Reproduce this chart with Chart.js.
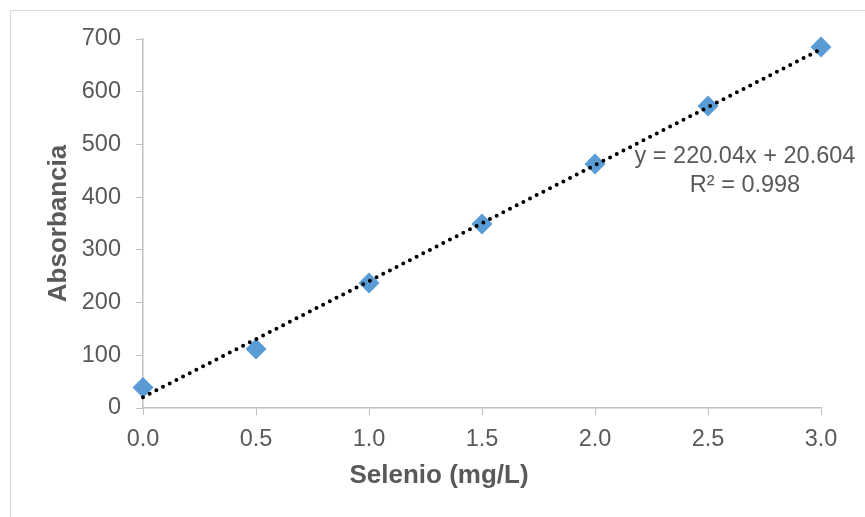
<!DOCTYPE html>
<html>
<head>
<meta charset="utf-8">
<script src="https://cdn.jsdelivr.net/npm/chart.js@4"></script>
<style>
  body { margin: 0; background: #fff; }
  #wrap { position: relative; width: 865px; height: 517px; overflow: hidden; }
  #frame { position: absolute; left: 10px; top: 10px; width: 900px; height: 560px; border: 1px solid #D9D9D9; box-sizing: border-box; }
  canvas { position: absolute; left: 0; top: 0; }
</style>
</head>
<body>
<div id="wrap">
  <div id="frame"></div>
  <canvas id="calibChart" width="865" height="517"></canvas>
</div>
<script>
// Datos de la curva de calibracion
var selenio = [0, 0.5, 1.0, 1.5, 2.0, 2.5, 3.0];
var absorbancia = [39, 112, 237, 349, 463, 573, 685];
var trendX = [0, 3];
var trendY = [20.604, 680.724];
var xTickLabels = ['0.0', '0.5', '1.0', '1.5', '2.0', '2.5', '3.0'];
var yTickLabels = ['0', '100', '200', '300', '400', '500', '600', '700'];
var equationLines = ['y = 220.04x + 20.604', 'R\u00b2 = 0.998'];
var xTitle = 'Selenio (mg/L)';
var yTitle = 'Absorbancia';

var textColor = '#595959';
var fontFamily = '"Liberation Sans", Arial, sans-serif';

// Texto de la ecuacion y titulo del eje X
var extraText = {
    id: 'extraText',
    afterDatasetsDraw: function (chart) {
        var ctx = chart.ctx;
        ctx.save();
        ctx.fillStyle = textColor;
        ctx.textAlign = 'center';
        ctx.textBaseline = 'alphabetic';
        ctx.font = '23.5px ' + fontFamily;
        ctx.fillText(equationLines[0], 745, 163);
        ctx.fillText(equationLines[1], 745, 192);
        ctx.font = 'bold 26px ' + fontFamily;
        ctx.fillText(xTitle, 439, 483);
        ctx.restore();
    }
};

var calibChart = new Chart(document.getElementById('calibChart').getContext('2d'), {
    type: 'scatter',
    data: {
        datasets: [{
            label: 'Tendencia',
            type: 'line',
            data: trendX.map(function (x, i) { return { x: x, y: trendY[i] }; }),
            borderColor: '#000000',
            borderWidth: 4,
            borderDash: [0, 7.5],
            borderCapStyle: 'round',
            pointRadius: 0,
            fill: false,
            clip: false,
            order: 0
        }, {
            label: 'Absorbancia',
            data: selenio.map(function (x, i) { return { x: x, y: absorbancia[i] }; }),
            pointStyle: 'rectRot',
            pointRadius: 10.5,
            pointHoverRadius: 10.5,
            backgroundColor: '#5B9BD5',
            borderColor: '#5B9BD5',
            borderWidth: 0,
            clip: false,
            order: 1
        }]
    },
    options: {
        responsive: false,
        animation: false,
        layout: { padding: { top: 39, right: 44, left: 0, bottom: 0 } },
        plugins: {
            legend: { display: false },
            tooltip: { enabled: false }
        },
        scales: {
            x: {
                type: 'linear',
                min: 0,
                max: 3,
                afterFit: function (scale) { scale.height = 109; },
                ticks: {
                    stepSize: 0.5,
                    autoSkip: false,
                    maxRotation: 0,
                    padding: 10,
                    color: textColor,
                    font: { family: fontFamily, size: 23.5 },
                    callback: function (value) {
                        return xTickLabels[Math.round(value * 2)];
                    }
                },
                grid: { drawOnChartArea: false, drawTicks: true, tickLength: 7, color: '#BFBFBF' },
                border: { color: '#BFBFBF', width: 1.5 }
            },
            y: {
                min: 0,
                max: 700,
                afterFit: function (scale) { scale.width = 143; },
                ticks: {
                    stepSize: 100,
                    padding: 15,
                    color: textColor,
                    font: { family: fontFamily, size: 23.5 },
                    callback: function (value) {
                        return yTickLabels[Math.round(value / 100)];
                    }
                },
                title: {
                    display: true,
                    text: yTitle,
                    color: textColor,
                    padding: 43,
                    font: { family: fontFamily, size: 26, weight: 'bold' }
                },
                grid: { drawOnChartArea: false, drawTicks: true, tickLength: 7, color: '#BFBFBF' },
                border: { color: '#BFBFBF', width: 1.5 }
            }
        }
    },
    plugins: [extraText]
});
</script>
</body>
</html>
